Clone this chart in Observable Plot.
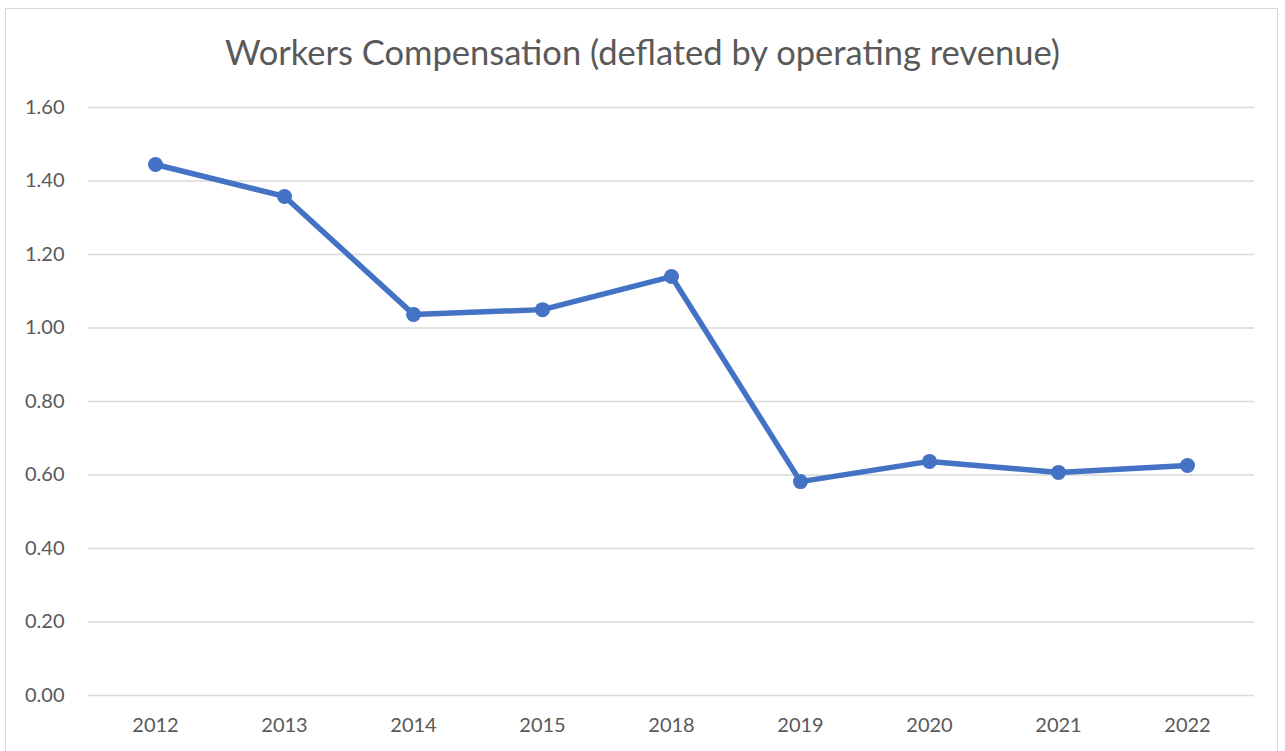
<!DOCTYPE html>
<html>
<head>
<meta charset="utf-8">
<script src="https://cdn.jsdelivr.net/npm/d3@7"></script>
<script src="https://cdn.jsdelivr.net/npm/@observablehq/plot@0.6"></script>
<style>
  html, body { margin: 0; padding: 0; background: #fff; }
  #frame { position: absolute; left: 5px; top: 8px; width: 1273px; height: 760px; border: 1px solid #d9d9d9; box-sizing: border-box; }
  #wrap { position: absolute; left: 0; top: 0; width: 1285px; }
  #title { height: 80px; line-height: 1; box-sizing: border-box; padding-top: 35px; text-align: center; font-family: Lato, "Open Sans", sans-serif; font-size: 34.5px; color: #595959; white-space: nowrap; }
  svg { display: block; }
</style>
</head>
<body>
<div id="frame"></div>
<div id="wrap">
  <div id="title">Workers Compensation (deflated by operating revenue)</div>
  <div id="chart"></div>
</div>
<script>
const years = ["2012", "2013", "2014", "2015", "2018", "2019", "2020", "2021", "2022"];
const values = [1.445, 1.358, 1.037, 1.050, 1.140, 0.582, 0.637, 0.607, 0.626];
const yTicks = [0, 0.2, 0.4, 0.6, 0.8, 1.0, 1.2, 1.4, 1.6];

const data = years.map((y, i) => ({year: y, value: values[i]}));

const chart = Plot.plot({
  width: 1285,
  height: 671,
  marginLeft: 88,
  marginRight: 31,
  marginTop: 27,
  marginBottom: 56,
  style: {fontFamily: "Lato, 'Open Sans', sans-serif", fontSize: "20px", color: "#595959", background: "transparent"},
  x: {type: "point", domain: years, padding: 0.5, label: null},
  y: {domain: [0, 1.6], ticks: yTicks, label: null},
  marks: [
    Plot.gridY(yTicks, {stroke: "#d9d9d9", strokeOpacity: 1, strokeWidth: 1.5}),
    Plot.axisY({ticks: yTicks, tickSize: 0, tickPadding: 24, tickFormat: d3.format(".2f"), fill: "#595959", fontSize: 20}),
    Plot.axisX({tickSize: 0, tickPadding: 22, fill: "#595959", fontSize: 20}),
    Plot.line(data, {x: "year", y: "value", stroke: "#4472C4", strokeWidth: 5.5, strokeLinejoin: "round", strokeLinecap: "round"}),
    Plot.dot(data, {x: "year", y: "value", fill: "#4472C4", r: 7.5})
  ]
});
document.getElementById("chart").appendChild(chart);
</script>
</body>
</html>
